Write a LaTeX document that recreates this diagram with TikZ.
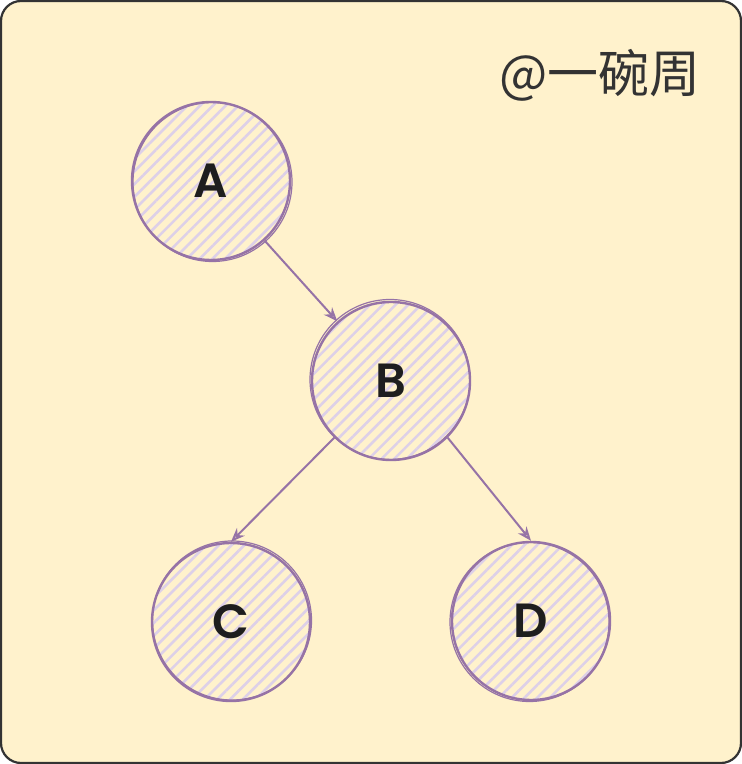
\documentclass[tikz,border=0pt]{standalone}
\usepackage{fontspec}
\newfontfamily\cjkfont{Noto Sans CJK SC}
\newfontfamily\letterfont{Poppins SemiBold}
\usetikzlibrary{arrows.meta,patterns.meta}
\definecolor{paper}{HTML}{FFF2CC}
\definecolor{frameink}{HTML}{333333}
\definecolor{violetink}{HTML}{9673A6}
\definecolor{hatch}{HTML}{DDD0E8}
\definecolor{textink}{HTML}{1E1E1E}
\begin{document}
\begin{tikzpicture}[x=1pt,y=1pt,
  ball/.style={circle, minimum size=158pt, inner sep=0pt, draw=violetink, line width=2.4pt,
    pattern={Lines[angle=45,distance=9pt,line width=2.6pt]}, pattern color=hatch,
    font=\letterfont\fontsize{48}{48}\selectfont, text=textink},
  link/.style={draw=violetink, line width=2pt, -{Stealth[open,length=14pt,width=11pt]}},
  sketch/.style={draw=violetink, line width=1.2pt}]
  \useasboundingbox (0,0) rectangle (742,764);
  % card
  \draw[frameink, line width=2.2pt, fill=paper, rounded corners=20pt] (1,1) rectangle (741,763);
  % signature
  \node (sig) at (600,689) {\cjkfont\fontsize{51}{51}\selectfont\color{frameink}@一碗周};
  % tree nodes
  \node[ball] (A) at (211,583) {A};
  \node[ball] (B) at (391,383) {B};
  \node[ball] (C) at (231,142) {C};
  \node[ball] (D) at (531,143) {D};
  % second pen stroke around each circle
  \draw[sketch] (A.center) ++(1.5,-1) circle (79.5pt);
  \draw[sketch] (B.center) ++(-1,1.5) circle (80pt);
  \draw[sketch] (C.center) ++(1,1.5) circle (79.5pt);
  \draw[sketch] (D.center) ++(-1.5,-1) circle (79.5pt);
  % edges
  \draw[link] (A) -- (B);
  \draw[link] (B.south west) -- (C.north);
  \draw[link] (B.-45) -- (D.north);
\end{tikzpicture}
\end{document}
